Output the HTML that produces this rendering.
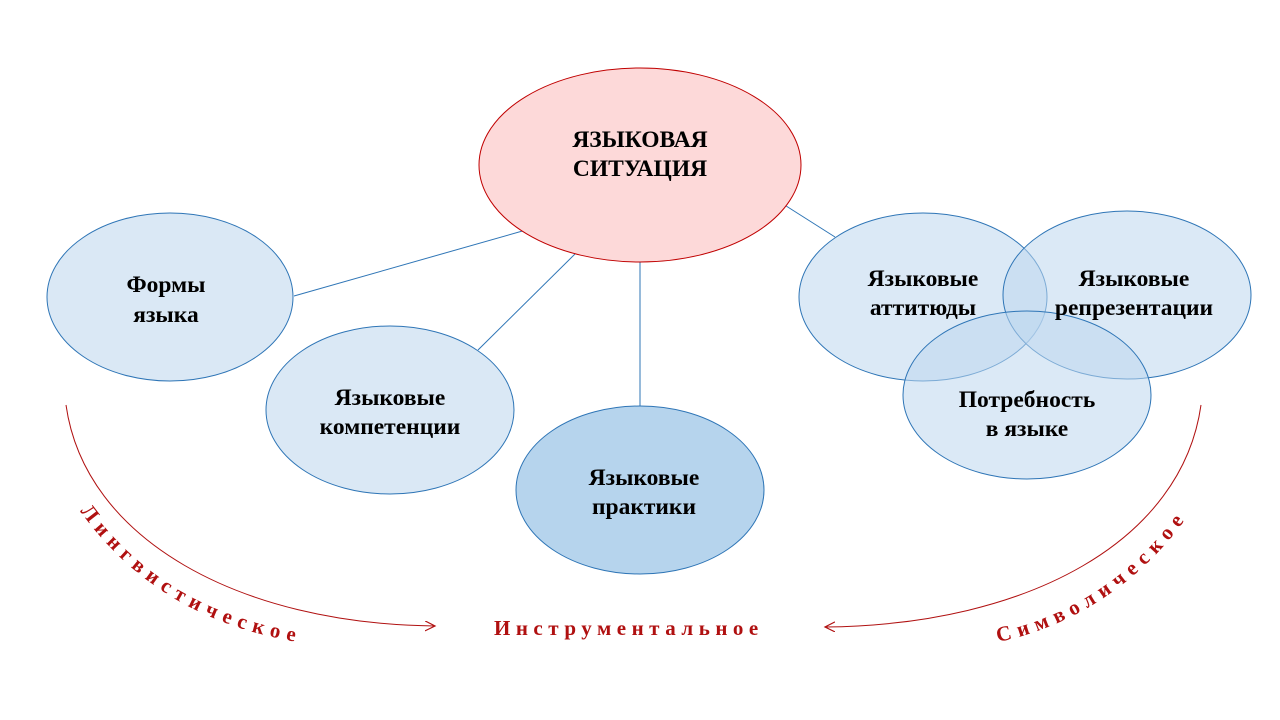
<!DOCTYPE html>
<html><head><meta charset="utf-8"><style>html,body{margin:0;padding:0;background:#fff}svg{display:block}</style></head>
<body>
<svg width="1280" height="720" viewBox="0 0 1280 720" xmlns="http://www.w3.org/2000/svg" font-family="'Liberation Serif', serif">
<defs>
<marker id="ar" markerWidth="12" markerHeight="12" refX="10" refY="5" orient="auto" markerUnits="userSpaceOnUse">
<path d="M0,0 L10,5 L0,10" fill="none" stroke="#b01010" stroke-width="1.2"/></marker>
<path id="tl" d="M80,511 C130,580 200,628 310,644"/>
<path id="tr" d="M998,642 C1080,625 1150,575 1195,505"/>
</defs>
<g stroke="#2e75b6" stroke-width="1">
<line x1="294" y1="296" x2="526" y2="230"/>
<line x1="478" y1="350" x2="576" y2="253"/>
<line x1="640" y1="262" x2="640" y2="407"/>
<line x1="783" y1="204" x2="835" y2="237"/>
</g>
<ellipse cx="640" cy="165" rx="161" ry="97" fill="#fdd9d9" stroke="#c00000" stroke-width="1"/>
<ellipse cx="170" cy="297" rx="123" ry="84" fill="#dae8f5" stroke="#2e75b6"/>
<ellipse cx="390" cy="410" rx="124" ry="84" fill="#dae8f5" stroke="#2e75b6"/>
<ellipse cx="640" cy="490" rx="124" ry="84" fill="#b6d4ed" stroke="#2e75b6"/>
<g fill="#bdd7ee" fill-opacity="0.55" stroke="#2e75b6">
<ellipse cx="923" cy="297" rx="124" ry="84"/>
<ellipse cx="1127" cy="295" rx="124" ry="84"/>
<ellipse cx="1027" cy="395" rx="124" ry="84"/>
</g>
<g font-weight="bold" font-size="23.5" text-anchor="middle" fill="#000">
<text x="640" y="147">ЯЗЫКОВАЯ</text><text x="640" y="176">СИТУАЦИЯ</text>
<text x="166" y="292">Формы</text><text x="166" y="322">языка</text>
<text x="390" y="405">Языковые</text><text x="390" y="434">компетенции</text>
<text x="644" y="485">Языковые</text><text x="644" y="514">практики</text>
<text x="923" y="286">Языковые</text><text x="923" y="315">аттитюды</text>
<text x="1134" y="286">Языковые</text><text x="1134" y="315">репрезентации</text>
<text x="1027" y="407">Потребность</text><text x="1027" y="436">в языке</text>
</g>
<g fill="none" stroke="#b01010" stroke-width="1">
<path d="M66,405 C85,540 240,624 435,626" marker-end="url(#ar)"/>
<path d="M1201,405 C1182,540 1030,625 825,627" marker-end="url(#ar)"/>
</g>
<g fill="#b01010" font-weight="bold" font-size="21" letter-spacing="6.5">
<text><textPath href="#tl">Лингвистическое</textPath></text>
<text><textPath href="#tr">Символическое</textPath></text>
<text x="494" y="635" letter-spacing="5.5">Инструментальное</text>
</g>
</svg>
</body></html>
